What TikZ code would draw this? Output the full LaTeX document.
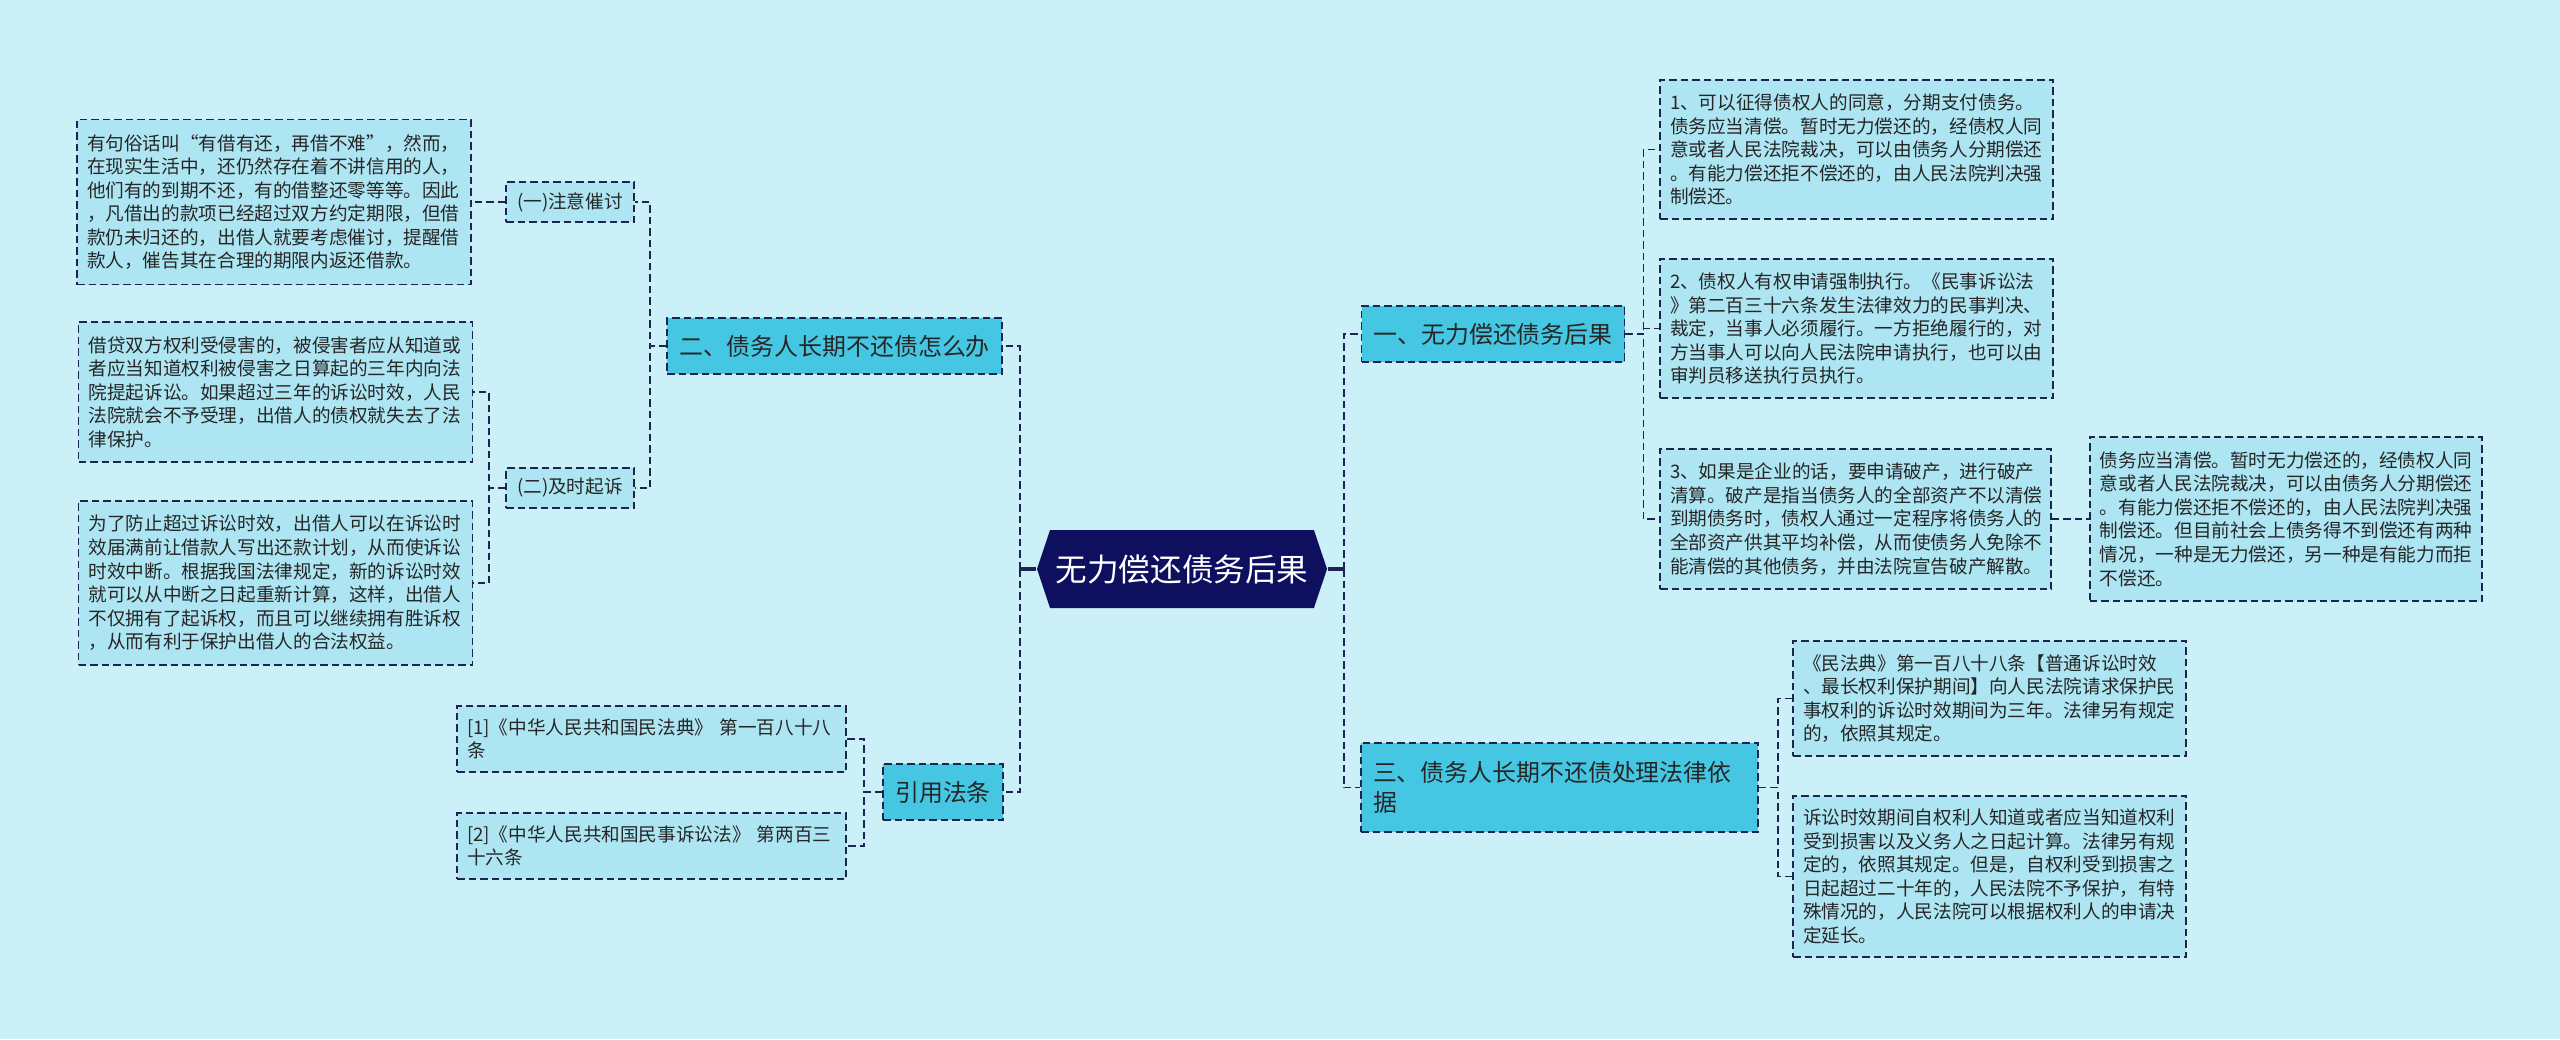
\documentclass[tikz,border=0pt]{standalone}
\usepackage{fontspec}
\setmainfont{Noto Sans CJK SC}
\usepackage{xcolor}
\usepackage{tikz}
\usetikzlibrary{positioning,shapes.symbols}
\definecolor{bgcyan}{HTML}{CBF0F8}
\definecolor{leafblue}{HTML}{ADE5F2}
\definecolor{branchcyan}{HTML}{45C7E3}
\definecolor{rootnavy}{HTML}{0E0F5E}
\definecolor{linenavy}{HTML}{1B2550}

\begin{document}
\begin{tikzpicture}[
	every node/.style={font=\fontsize{5.3}{6.7}\selectfont, text=black!85},
	rootbox/.style={signal, signal to=west and east, signal pointer angle=143, fill=rootnavy, text=white, font=\fontsize{9}{10}\selectfont, minimum width=2.9cm, minimum height=7.8mm, inner sep=0pt},
	branch/.style={draw=linenavy, dash pattern=on 0.75mm off 0.4mm, line width=0.55pt, fill=branchcyan, font=\fontsize{6.8}{8.5}\selectfont, inner xsep=1.2mm, minimum height=5.6mm},
	sub/.style={draw=linenavy, dash pattern=on 0.75mm off 0.4mm, line width=0.55pt, fill=leafblue, minimum width=1.28cm, minimum height=4mm, inner sep=0pt},
	leaf/.style={draw=linenavy, dash pattern=on 0.75mm off 0.4mm, line width=0.55pt, fill=leafblue, align=left, text width=3.74cm, inner xsep=1mm, inner ysep=1mm},
	link/.style={draw=linenavy, dash pattern=on 0.75mm off 0.4mm, line width=0.55pt},
	stem/.style={draw=linenavy, line width=0.9pt}]
	\path[use as bounding box, fill=bgcyan] (0,0) rectangle (25.6,-10.39);
	\node[rootbox] (root) at (11.82,-5.69) {无力偿还债务后果};
	\node[branch] (b2) at (8.345,-3.46) {二、债务人长期不还债怎么办};
	\node[branch, minimum width=1.2cm] (law) at (9.43,-7.92) {引用法条};
	\node[sub] (s1) at (5.70,-2.02) {(一)注意催讨};
	\node[sub] (s2) at (5.70,-4.88) {(二)及时起诉};
	\node[leaf, minimum height=1.65cm, left=3.3mm of s1] (leaf1) {有句俗话叫“有借有还，再借不难”，然而，\\在现实生活中，还仍然存在着不讲信用的人，\\他们有的到期不还，有的借整还零等等。因此\\，凡借出的款项已经超过双方约定期限，但借\\款仍未归还的，出借人就要考虑催讨，提醒借\\款人，催告其在合理的期限内返还借款。};
	\node[leaf, minimum height=1.40cm] (leaf2) at (2.755,-3.92) {借贷双方权利受侵害的，被侵害者应从知道或\\者应当知道权利被侵害之日算起的三年内向法\\院提起诉讼。如果超过三年的诉讼时效，人民\\法院就会不予受理，出借人的债权就失去了法\\律保护。};
	\node[leaf, minimum height=1.64cm] (leaf3) at (2.755,-5.83) {为了防止超过诉讼时效，出借人可以在诉讼时\\效届满前让借款人写出还款计划，从而使诉讼\\时效中断。根据我国法律规定，新的诉讼时效\\就可以从中断之日起重新计算，这样，出借人\\不仅拥有了起诉权，而且可以继续拥有胜诉权\\，从而有利于保护出借人的合法权益。};
	\node[leaf, text width=3.69cm, minimum height=6.6mm] (ref1) at (6.515,-7.39) {[1]《中华人民共和国民法典》 第一百八十八\\条};
	\node[leaf, text width=3.69cm, minimum height=6.6mm] (ref2) at (6.515,-8.46) {[2]《中华人民共和国民事诉讼法》 第两百三\\十六条};
	\node[branch] (b1) at (14.93,-3.34) {一、无力偿还债务后果};
	\node[leaf, text width=3.73cm, minimum height=1.39cm] (c1) at (18.565,-1.495) {1、可以征得债权人的同意，分期支付债务。\\债务应当清偿。暂时无力偿还的，经债权人同\\意或者人民法院裁决，可以由债务人分期偿还\\。有能力偿还拒不偿还的，由人民法院判决强\\制偿还。};
	\node[leaf, text width=3.73cm, minimum height=1.39cm] (c2) at (18.565,-3.285) {2、债权人有权申请强制执行。《民事诉讼法\\》第二百三十六条发生法律效力的民事判决、\\裁定，当事人必须履行。一方拒绝履行的，对\\方当事人可以向人民法院申请执行，也可以由\\审判员移送执行员执行。};
	\node[leaf, text width=3.71cm, minimum height=1.40cm] (c3) at (18.555,-5.19) {3、如果是企业的话，要申请破产，进行破产\\清算。破产是指当债务人的全部资产不以清偿\\到期债务时，债权人通过一定程序将债务人的\\全部资产供其平均补偿，从而使债务人免除不\\能清偿的其他债务，并由法院宣告破产解散。};
	\node[leaf, text width=3.72cm, minimum height=1.64cm, right=3.7mm of c3] (c3a) {债务应当清偿。暂时无力偿还的，经债权人同\\意或者人民法院裁决，可以由债务人分期偿还\\。有能力偿还拒不偿还的，由人民法院判决强\\制偿还。但目前社会上债务得不到偿还有两种\\情况，一种是无力偿还，另一种是有能力而拒\\不偿还。};
	\node[branch, align=left, text width=3.73cm, minimum height=8.9mm] (b3) at (15.595,-7.875) {三、债务人长期不还债处理法律依\\据};
	\node[leaf, text width=3.73cm, minimum height=1.15cm] (d1) at (19.895,-6.985) {《民法典》第一百八十八条【普通诉讼时效\\、最长权利保护期间】向人民法院请求保护民\\事权利的诉讼时效期间为三年。法律另有规定\\的，依照其规定。};
	\node[leaf, text width=3.73cm, minimum height=1.61cm] (d2) at (19.895,-8.765) {诉讼时效期间自权利人知道或者应当知道权利\\受到损害以及义务人之日起计算。法律另有规\\定的，依照其规定。但是，自权利受到损害之\\日起超过二十年的，人民法院不予保护，有特\\殊情况的，人民法院可以根据权利人的申请决\\定延长。};
	\draw[stem] (root.west) -- ++(-0.16,0) coordinate (forkl);
	\draw[link] (forkl) |- (b2.east);
	\draw[link] (forkl) |- (law.east);
	\draw[stem] (root.east) -- ++(0.16,0) coordinate (forkr);
	\draw[link] (forkr) |- (b1.west);
	\draw[link] (forkr) |- (b3.west);
	\draw[link] (b2.west) -- ++(-0.16,0) |- (s1.east);
	\draw[link] (b2.west) -- ++(-0.16,0) |- (s2.east);
	\draw[link] (s1) -- (leaf1);
	\draw[link] (s2.west) -- ++(-0.16,0) |- (leaf2.east);
	\draw[link] (s2.west) -- ++(-0.16,0) |- (leaf3.east);
	\draw[link] (law.west) -- ++(-0.18,0) |- (ref1.east);
	\draw[link] (law.west) -- ++(-0.18,0) |- (ref2.east);
	\draw[link] (b1.east) -- ++(0.18,0) |- (c1.west);
	\draw[link] (b1.east) -- ++(0.18,0) |- (c2.west);
	\draw[link] (b1.east) -- ++(0.18,0) |- (c3.west);
	\draw[link] (c3) -- (c3a);
	\draw[link] (b3.east) -- ++(0.19,0) |- (d1.west);
	\draw[link] (b3.east) -- ++(0.19,0) |- (d2.west);
\end{tikzpicture}
\end{document}
